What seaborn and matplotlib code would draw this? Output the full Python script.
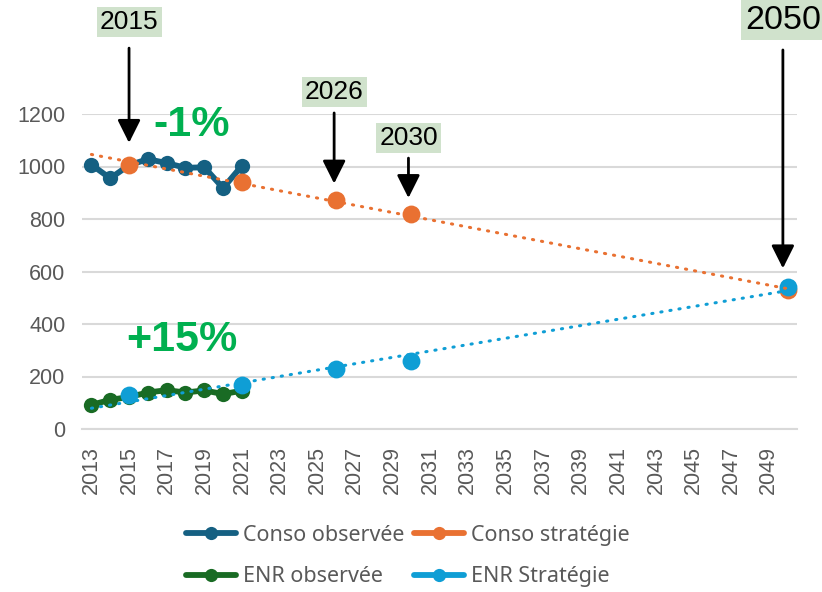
import numpy as np
import pandas as pd
import matplotlib
matplotlib.use("Agg")
import matplotlib.pyplot as plt
from matplotlib.lines import Line2D
import seaborn as sns

# Observed series (2013-2021)
obs_years = [2013, 2014, 2015, 2016, 2017, 2018, 2019, 2020, 2021]
conso_obs = [1007, 955, 1005, 1028, 1013, 995, 997, 918, 1003]
enr_obs = [92, 111, 122, 139, 148, 139, 147, 133, 146]

# Strategy milestones
strat_years = [2015, 2021, 2026, 2030, 2050]
conso_strat = [1005, 941, 871, 820, 528]
enr_strat = [130, 168, 228, 260, 542]

tick_years = list(range(2013, 2050, 2))
y_ticks = [0, 200, 400, 600, 800, 1000, 1200]

C_CONSO_OBS = "#156082"
C_CONSO_STRAT = "#E97132"
C_ENR_OBS = "#196B24"
C_ENR_STRAT = "#0F9ED5"
GRID = "#D9D9D9"
TXT = "#595959"
GREEN_TXT = "#00B050"
BOX = "#D0E2CC"

sns.set_style("white")
plt.rcParams["font.family"] = ["Liberation Sans", "DejaVu Sans"]

fig = plt.figure(figsize=(8.22, 5.92), dpi=100)
ax = fig.add_axes([82 / 822, (592 - 429) / 592, (797 - 82) / 822, (429 - 114) / 592])

df_obs = pd.DataFrame({"year": obs_years, "conso": conso_obs, "enr": enr_obs})
df_strat = pd.DataFrame({"year": strat_years, "conso": conso_strat, "enr": enr_strat})

# Linear trendlines over the full horizon
full = np.arange(2013, 2051)
trend = pd.DataFrame({"year": full})
for col in ["conso", "enr"]:
    coef = np.polyfit(df_strat["year"], df_strat[col], 1)
    trend[col] = np.polyval(coef, full)

obs_kw = dict(marker="o", markersize=11, linewidth=4.2, markeredgewidth=0)
sns.lineplot(data=df_obs, x="year", y="conso", color=C_CONSO_OBS, ax=ax, zorder=3, **obs_kw)
sns.lineplot(data=df_obs, x="year", y="enr", color=C_ENR_OBS, ax=ax, zorder=3, **obs_kw)

sns.scatterplot(data=df_strat, x="year", y="conso", color=C_CONSO_STRAT, s=165,
                linewidth=0, ax=ax, zorder=4)
sns.scatterplot(data=df_strat, x="year", y="enr", color=C_ENR_STRAT, s=165,
                linewidth=0, ax=ax, zorder=5)

for col, c in [("conso", C_CONSO_STRAT), ("enr", C_ENR_STRAT)]:
    sns.lineplot(data=trend, x="year", y=col, color=c, ax=ax, zorder=6)
    ax.lines[-1].set(linestyle=(0, (0.4, 2.6)), linewidth=2.2, dash_capstyle="round")

ax.set_xlim(2012.5, 2050.5)
ax.set_ylim(0, 1200)
ax.set_xticks(tick_years)
ax.set_xticklabels([str(y) for y in tick_years], rotation=90)
ax.set_yticks(y_ticks)
ax.tick_params(axis="both", length=0, labelsize=15.5, labelcolor=TXT)
ax.tick_params(axis="x", pad=12)
ax.tick_params(axis="y", pad=12)
ax.set_xlabel("")
ax.set_ylabel("")
ax.grid(axis="y", color=GRID, linewidth=1.5)
ax.set_axisbelow(True)
for s in ["top", "right", "left"]:
    ax.spines[s].set_visible(False)
ax.spines["bottom"].set_color(GRID)
ax.spines["bottom"].set_linewidth(1.5)

# Milestone labels with arrows
arrow_kw = dict(arrowstyle="-|>,head_length=0.7,head_width=0.35", color="black",
                lw=2.0, mutation_scale=20, shrinkA=0, shrinkB=0)
milestones = [
    ("2015", 2015.0, 1550, 19, 1451, 1090),
    ("2026", 2025.9, 1284, 19, 1204, 935),
    ("2030", 2029.85, 1109, 19, 1032, 880),
    ("2050", 2049.75, 1558, 24.5, 1444, 612),
]
for label, xx, ty, fs, y0, y1 in milestones:
    ax.text(xx, ty, label, ha="center", va="center", fontsize=fs, color="black",
            bbox=dict(boxstyle="square,pad=0.12", facecolor=BOX, edgecolor="none"),
            clip_on=False, zorder=10)
    ax.annotate("", xy=(xx, y1), xytext=(xx, y0), arrowprops=arrow_kw,
                annotation_clip=False, zorder=10)

ax.text(2018.35, 1158, "-1%", ha="center", va="center", fontsize=31,
        fontweight="bold", color=GREEN_TXT, zorder=10)
ax.text(2017.8, 339, "+15%", ha="center", va="center", fontsize=31,
        fontweight="bold", color=GREEN_TXT, zorder=10)

# Legend
leg_kw = dict(marker="o", markersize=9.5, linewidth=4.2, markeredgewidth=0)
handles = [
    Line2D([], [], color=C_CONSO_OBS, **leg_kw),
    Line2D([], [], color=C_ENR_OBS, **leg_kw),
    Line2D([], [], color=C_CONSO_STRAT, **leg_kw),
    Line2D([], [], color=C_ENR_STRAT, **leg_kw),
]
labels = ["Conso observée", "ENR observée", "Conso stratégie", "ENR Stratégie"]
leg = fig.legend(handles, labels, ncol=2, loc="center",
                 bbox_to_anchor=(408 / 822, 1 - 556 / 592), frameon=False,
                 prop={"family": ["Noto Sans", "DejaVu Sans"], "size": 15.5},
                 handlelength=2.3, handletextpad=0.35, columnspacing=0.45,
                 labelspacing=0.95)
for t in leg.get_texts():
    t.set_color(TXT)

fig.savefig("out.png", dpi=100)
